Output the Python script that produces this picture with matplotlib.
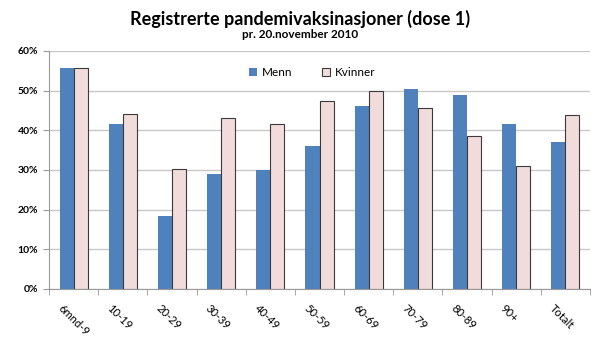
import numpy as np
import matplotlib
matplotlib.use('Agg')
import matplotlib.pyplot as plt
from matplotlib.ticker import FuncFormatter, FixedLocator
import matplotlib.transforms as mtransforms

plt.rcParams['font.family'] = ['Lato', 'DejaVu Sans']

categories = ['6mnd-9', '10-19', '20-29', '30-39', '40-49', '50-59',
              '60-69', '70-79', '80-89', '90+', 'Totalt']
menn = [55.8, 41.7, 18.3, 28.9, 30.1, 36.1, 46.2, 50.3, 48.8, 41.6, 37.1]
kvinner = [55.8, 44.0, 30.3, 43.0, 41.6, 47.5, 49.8, 45.7, 38.5, 30.9, 43.9]

fig = plt.figure(figsize=(6, 3.42), dpi=100)
ax = fig.add_axes([0.082, 0.155, 0.901, 0.696])

x = np.arange(len(categories))
w = 0.285
ax.bar(x - w / 2, menn, w, color='#4F81BD', label='Menn', zorder=2)
ax.bar(x + w / 2, kvinner, w, color='#F2DCDB', edgecolor='#3a3a3a',
       linewidth=0.8, label='Kvinner', zorder=2)

ax.set_xlim(-0.5, len(categories) - 0.5)
ax.set_ylim(0, 60)
ax.set_yticks(np.arange(0, 61, 10))
ax.yaxis.set_major_formatter(FuncFormatter(lambda v, p: f'{int(v)}%'))
ax.grid(axis='y', color='#c8c8c8', linewidth=1, zorder=0)

# ticks between categories, labels at centres
ax.set_xticks(x)
ax.set_xticklabels(categories, rotation=-45, ha='left', rotation_mode='anchor', fontsize=8)
ax.xaxis.set_minor_locator(FixedLocator(np.arange(-0.5, len(categories), 1)))
ax.tick_params(axis='x', which='major', length=0, pad=10)
ax.tick_params(axis='x', which='minor', length=4, color='#999999')
ax.tick_params(axis='y', length=4, color='#999999', labelsize=7.5, pad=4)
shift = mtransforms.ScaledTranslation(-10 / 100, 0, fig.dpi_scale_trans)
for lbl in ax.get_xticklabels():
    lbl.set_transform(lbl.get_transform() + shift)
for lbl in ax.get_yticklabels():
    lbl.set_fontweight('bold')

for s in ['top', 'right']:
    ax.spines[s].set_visible(False)
ax.spines['left'].set_color('#999999')
ax.spines['bottom'].set_color('#999999')

ax.legend(loc='center', bbox_to_anchor=(0.486, 0.91), ncol=2, frameon=False,
          fontsize=8.5, handlelength=0.7, handleheight=0.7, columnspacing=2.5,
          handletextpad=0.4)

fig.text(0.5, 0.945, 'Registrerte pandemivaksinasjoner (dose 1)', ha='center',
         va='center', fontsize=13, fontweight='bold')
fig.text(0.5, 0.898, 'pr. 20.november 2010', ha='center', va='center',
         fontsize=8.5, fontweight='bold')

fig.savefig('out.png', dpi=100)
